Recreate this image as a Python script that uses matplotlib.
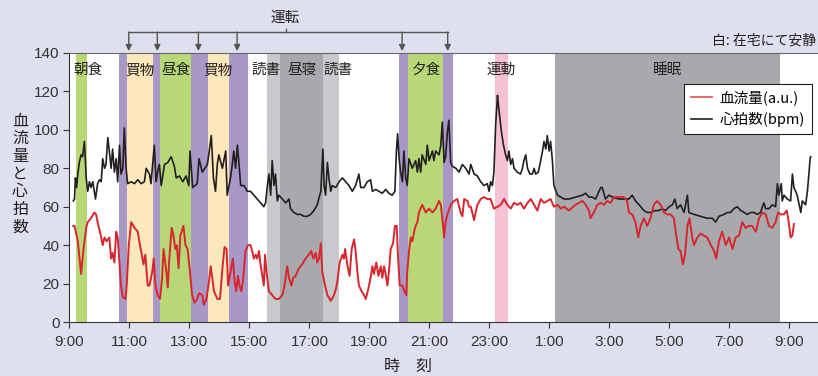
import matplotlib
matplotlib.use("Agg")
import matplotlib.pyplot as plt
from matplotlib.lines import Line2D

plt.rcParams['font.family'] = ['Noto Sans CJK JP', 'DejaVu Sans']

# ---- data ----
hr_time = [9.13, 9.17, 9.20, 9.24, 9.28, 9.33, 9.39, 9.44, 9.50, 9.56, 9.61, 9.67, 9.72, 9.78, 9.87, 9.94,
           10.00, 10.06, 10.11, 10.17, 10.22, 10.28, 10.33, 10.39, 10.44, 10.50, 10.56, 10.61, 10.67, 10.72,
           10.78, 10.83, 10.89, 10.94, 11.06, 11.17, 11.28, 11.39, 11.50, 11.56, 11.67, 11.72, 11.83, 11.89,
           11.94, 12.00, 12.06, 12.17, 12.28, 12.39, 12.50, 12.56, 12.67, 12.78, 12.89, 12.98, 13.02, 13.11,
           13.26, 13.32, 13.43, 13.60, 13.73, 13.80, 13.87, 13.93, 13.98, 14.10, 14.21, 14.26, 14.37, 14.43,
           14.48, 14.54, 14.60, 14.65, 14.71, 14.82, 14.93, 15.04, 15.15, 15.26, 15.37, 15.48, 15.54, 15.60,
           15.65, 15.71, 15.76, 15.82, 15.87, 15.93, 15.98, 16.10, 16.21, 16.32, 16.37, 16.48, 16.60, 16.71,
           16.82, 16.93, 17.04, 17.15, 17.26,
           17.38, 17.45, 17.49, 17.54, 17.60, 17.65, 17.71, 17.76, 17.88, 17.99, 18.10, 18.21, 18.32, 18.43,
           18.54, 18.65, 18.71, 18.82, 18.93, 19.04, 19.10, 19.21, 19.32, 19.43, 19.54, 19.65, 19.76, 19.85,
           19.90, 19.94, 19.99, 20.04, 20.10, 20.15, 20.21, 20.26, 20.32, 20.43, 20.54, 20.60, 20.65, 20.71,
           20.76, 20.88, 20.93, 20.99, 21.10, 21.15, 21.21, 21.32, 21.38, 21.43,
           21.49, 21.54, 21.60, 21.65, 21.71, 21.77, 21.88, 21.99, 22.10, 22.21, 22.32, 22.38, 22.49, 22.60,
           22.71, 22.82, 22.93, 22.99, 23.04, 23.10, 23.15, 23.21, 23.27, 23.30, 23.35, 23.40, 23.47, 23.54,
           23.60, 23.65, 23.71, 23.77, 23.82, 23.93, 24.04, 24.10, 24.15, 24.21, 24.27, 24.35, 24.43, 24.49,
           24.54, 24.63, 24.71, 24.77, 24.82, 24.88, 24.93, 24.99, 25.04, 25.10, 25.15, 25.27, 25.38, 25.49,
           25.65,
           25.87, 26.10, 26.21, 26.32, 26.43, 26.54, 26.71, 26.76, 26.87, 26.98, 27.10, 27.32, 27.54, 27.65,
           27.76, 27.87, 27.99, 28.15, 28.26, 28.37, 28.54, 28.65, 28.76, 28.87, 28.99, 29.10, 29.18, 29.26,
           29.37, 29.49, 29.60, 29.65, 29.82,
           30.04, 30.26, 30.43, 30.54, 30.65, 30.82, 30.93, 31.04, 31.15, 31.26, 31.38, 31.49, 31.60, 31.71,
           31.82, 31.93, 32.04, 32.10, 32.15, 32.21, 32.32, 32.43, 32.54, 32.60, 32.65, 32.73, 32.76, 32.82,
           32.93, 33.04, 33.10, 33.15, 33.26, 33.38, 33.43, 33.54, 33.60, 33.65, 33.69, 33.71]
hr_value = [63, 64, 75, 70, 77, 83, 87, 86, 94, 75, 68, 73, 70, 73, 64, 72,
            74, 73, 85, 80, 82, 96, 89, 80, 90, 78, 85, 73, 92, 77,
            80, 101, 80, 72, 73, 72, 74, 72, 73, 80, 77, 72, 92, 73,
            78, 82, 71, 82, 83, 86, 81, 75, 76, 73, 76, 71, 89, 70,
            72, 85, 78, 82, 97, 75, 68, 82, 87, 80, 89, 66, 75, 82,
            89, 80, 92, 83, 71, 71, 68, 68, 66, 64, 62, 60, 62, 71,
            77, 66, 84, 71, 77, 63, 66, 64, 62, 64, 59, 57, 56, 56,
            55, 55, 56, 58, 61,
            68, 90, 71, 66, 83, 75, 68, 71, 70, 73, 75, 73, 71, 68,
            71, 77, 70, 70, 73, 74, 68, 69, 68, 67, 69, 67, 66, 68,
            89, 98, 85, 78, 73, 89, 75, 71, 85, 80, 84, 78, 85, 78,
            87, 82, 92, 84, 89, 84, 89, 87, 92, 104,
            83, 86, 99, 105, 83, 81, 80, 78, 82, 80, 77, 82, 77, 76,
            73, 71, 72, 68, 73, 71, 78, 103, 118, 113, 106, 99, 92, 87,
            84, 89, 82, 85, 80, 78, 77, 80, 84, 87, 80, 77, 77, 80,
            77, 78, 84, 89, 94, 90, 97, 89, 94, 84, 71, 66, 65, 64,
            64,
            65, 66, 67, 65, 65, 64, 70, 70, 64, 66, 65, 64, 64, 64,
            66, 63, 61, 58, 57, 57, 58, 58, 59, 58, 60, 61, 64, 59,
            61, 57, 66, 57, 56,
            55, 54, 54, 52, 55, 56, 57, 57, 59, 60, 58, 57, 56, 57,
            57, 56, 57, 60, 62, 59, 59, 61, 60, 72, 66, 72, 63, 66,
            64, 63, 77, 70, 66, 57, 63, 61, 68, 77, 85, 86]

bf_time = [9.13, 9.17, 9.28, 9.39, 9.47, 9.56, 9.61, 9.72, 9.83, 9.89, 9.94, 10.06, 10.11, 10.17, 10.24,
           10.33, 10.39, 10.44, 10.50, 10.56, 10.61, 10.67, 10.72, 10.78, 10.87, 10.91, 10.98, 11.06, 11.17,
           11.28, 11.33, 11.39, 11.47, 11.53, 11.61, 11.67, 11.76, 11.81, 11.87, 11.94, 12.02, 12.09, 12.14,
           12.22, 12.28, 12.33, 12.41, 12.47, 12.53, 12.58, 12.64, 12.70, 12.80, 12.87, 12.94, 13.02, 13.09,
           13.17,
           13.26, 13.32, 13.43, 13.48, 13.57, 13.65, 13.71, 13.76, 13.82, 13.93, 14.02, 14.09, 14.17, 14.24,
           14.29, 14.37, 14.45, 14.51, 14.56, 14.62, 14.67, 14.73, 14.79, 14.87, 14.95, 15.04, 15.09, 15.15,
           15.21, 15.26, 15.32, 15.37, 15.43, 15.48, 15.52, 15.57, 15.65, 15.76, 15.87, 15.98, 16.10, 16.17,
           16.26, 16.32, 16.40, 16.46, 16.54, 16.65, 16.76, 16.87, 16.98, 17.06, 17.13, 17.21, 17.26,
           17.32, 17.38, 17.43, 17.52, 17.60, 17.71, 17.82, 17.88, 17.93, 18.01, 18.10, 18.15, 18.19, 18.26,
           18.34, 18.41, 18.49, 18.54, 18.60, 18.65, 18.74, 18.82, 18.88, 18.96, 19.04, 19.10, 19.15, 19.23,
           19.30, 19.38, 19.43, 19.49, 19.54, 19.60, 19.65, 19.71, 19.79, 19.85, 19.91, 19.95, 20.01, 20.10,
           20.19, 20.23, 20.26, 20.32, 20.38, 20.43, 20.49, 20.54, 20.60, 20.65, 20.76, 20.88, 20.99, 21.10,
           21.21, 21.32, 21.38, 21.43, 21.49,
           21.54, 21.60, 21.71, 21.82, 21.93, 22.04, 22.10, 22.16, 22.27, 22.32, 22.38, 22.49, 22.54, 22.60,
           22.71, 22.82, 22.93, 23.04, 23.15, 23.27, 23.38, 23.49, 23.60, 23.71, 23.82, 23.93, 24.04, 24.15,
           24.27, 24.38, 24.49, 24.60, 24.71, 24.82, 24.93, 25.04, 25.15, 25.27, 25.38, 25.49, 25.65,
           25.87, 26.10, 26.21, 26.32, 26.37, 26.48, 26.60, 26.71, 26.82, 26.93, 27.04, 27.15, 27.32, 27.48,
           27.59, 27.65, 27.76, 27.87, 27.96, 28.04, 28.15, 28.26, 28.37, 28.48, 28.59, 28.71, 28.82, 28.93,
           29.04, 29.15, 29.21, 29.30, 29.37, 29.45, 29.52, 29.60, 29.67, 29.76, 29.82,
           29.93, 30.04, 30.15, 30.26, 30.38, 30.49, 30.56, 30.65, 30.76, 30.88, 30.99, 31.10, 31.21, 31.32,
           31.43, 31.54, 31.65, 31.76, 31.88, 31.99, 32.10, 32.21, 32.32, 32.43, 32.54, 32.62, 32.71, 32.82,
           32.91, 32.96, 33.04, 33.10, 33.15]
bf_value = [50, 50, 42, 25, 38, 49, 52, 54, 57, 56, 52, 44, 40, 44, 42,
            44, 33, 36, 31, 47, 44, 30, 19, 13, 12, 19, 40, 52, 49,
            47, 42, 37, 30, 35, 19, 19, 26, 33, 19, 14, 12, 23, 38,
            28, 18, 33, 49, 45, 38, 40, 28, 45, 50, 40, 38, 26, 14,
            10,
            12, 15, 14, 9, 12, 21, 29, 23, 16, 12, 12, 26, 39, 38,
            19, 26, 33, 21, 16, 24, 19, 16, 22, 37, 40, 40, 37, 33,
            35, 33, 37, 30, 24, 19, 35, 26, 16, 14, 12, 12, 14, 19,
            29, 23, 19, 23, 24, 28, 30, 33, 35, 37, 33, 36, 31,
            33, 41, 26, 19, 14, 11, 14, 17, 21, 31, 35, 33, 38, 30,
            24, 38, 43, 37, 26, 19, 16, 14, 12, 17, 23, 29, 25, 31,
            24, 29, 23, 29, 25, 19, 26, 38, 41, 50, 50, 35, 19, 19,
            15, 14, 26, 37, 44, 42, 47, 50, 52, 57, 61, 57, 59, 57,
            59, 63, 61, 54, 44,
            52, 56, 61, 63, 64, 57, 55, 64, 63, 60, 60, 53, 57, 61,
            64, 65, 64, 64, 59, 60, 61, 64, 61, 59, 62, 61, 62, 59,
            62, 64, 61, 58, 64, 62, 63, 64, 60, 61, 59, 60, 58,
            61, 63, 61, 58, 54, 57, 61, 62, 61, 63, 62, 65, 65, 65,
            63, 57, 56, 52, 44, 50, 54, 50, 54, 61, 63, 61, 57, 56,
            56, 54, 47, 38, 37, 30, 35, 50, 54, 44, 40,
            44, 46, 45, 44, 40, 37, 33, 42, 47, 40, 44, 38, 44, 45,
            52, 49, 50, 50, 47, 54, 57, 56, 50, 49, 52, 57, 56, 56,
            58, 54, 44, 45, 51]

# activity bands: (start hour, end hour, kind)
band_start = [9.22, 10.65, 10.92, 11.80, 12.02, 13.05, 13.62, 14.33, 15.59, 16.02, 17.45, 19.98, 20.29, 21.45, 23.19, 25.19]
band_end   = [9.59, 10.92, 11.80, 12.02, 13.05, 13.62, 14.33, 14.95, 16.02, 17.45, 17.99, 20.29, 21.45, 21.79, 23.61, 32.69]
band_kind  = ['meal', 'drive', 'shop', 'drive', 'meal', 'drive', 'shop', 'drive', 'read', 'nap', 'read', 'drive', 'meal', 'drive', 'exercise', 'sleep']

label_text = ['朝食', '買物', '昼食', '買物', '読書', '昼寝', '読書', '夕食', '運動', '睡眠']
label_hour = [9.62, 11.35, 12.55, 13.95, 15.55, 16.75, 17.95, 20.9, 23.4, 28.95]

arrow_hour = [10.98, 11.93, 13.30, 14.59, 20.09, 21.61]

tick_hours = [9, 11, 13, 15, 17, 19, 21, 23, 25, 27, 29, 31, 33]
tick_labels = ['9:00', '11:00', '13:00', '15:00', '17:00', '19:00', '21:00', '23:00',
               '1:00', '3:00', '5:00', '7:00', '9:00']

# ---- style ----
colors = {'meal': '#b8d878', 'drive': '#a898c8', 'shop': '#fde8bb', 'read': '#c8c9cc',
          'nap': '#a8a9ac', 'exercise': '#f5c1d5', 'sleep': '#a8a9ac'}
BG = '#dfe0ef'
W, H = 818, 376
num_font = ['Liberation Sans Narrow', 'Liberation Sans', 'DejaVu Sans']

fig = plt.figure(figsize=(W / 100, H / 100), dpi=100, facecolor=BG)
x0, x1, ytop, ybot = 69.4, 818, 53, 322
ax = fig.add_axes([x0 / W, 1 - ybot / H, (x1 - x0) / W, (ybot - ytop) / H])
ax.set_facecolor('white')
ax.set_xlim(9, 9 + (x1 - x0) / 30)
ax.set_ylim(0, 140)

for s, e, k in zip(band_start, band_end, band_kind):
    ax.axvspan(s, e, color=colors[k], lw=0, zorder=0)

ax.plot(bf_time, bf_value, color='#d7262e', lw=1.4, zorder=3)
ax.plot(hr_time, hr_value, color='#231f20', lw=1.2, zorder=2)

for t, h in zip(label_text, label_hour):
    ax.text(h, 131, t, ha='center', va='center', fontsize=10.5, color='#231f20', zorder=4)

# spines / ticks
ax.spines['right'].set_visible(False)
ax.spines['top'].set_color('#666666')
ax.spines['left'].set_color('#333333')
ax.spines['bottom'].set_color('#333333')
ax.set_yticks(range(0, 141, 20))
ax.set_xticks(tick_hours)
ax.set_xticklabels(tick_labels)
ax.tick_params(axis='both', direction='out', length=4, color='#333333', labelcolor='#333333', labelsize=11)
for lab in ax.get_xticklabels() + ax.get_yticklabels():
    lab.set_family(num_font)
ax.tick_params(axis='x', pad=5)
ax.tick_params(axis='y', pad=3)

# legend
handles = [Line2D([], [], color='#e06060', lw=1.3), Line2D([], [], color='#231f20', lw=1.2)]
leg = ax.legend(handles, ['血流量(a.u.)', '心拍数(bpm)'], loc='upper left',
                bbox_to_anchor=(684 / W, 1 - 84 / H), bbox_transform=fig.transFigure,
                fontsize=10.5, frameon=True, fancybox=False, edgecolor='#231f20', framealpha=1,
                handlelength=1.5, handletextpad=0.5, borderpad=0.45, labelspacing=0.45, borderaxespad=0)
leg.get_frame().set_linewidth(0.8)
leg.set_zorder(5)

# driving bracket and arrows
gray = '#555555'
ax.plot([arrow_hour[0], arrow_hour[-1]], [150.7, 150.7], color=gray, lw=1, clip_on=False)
ax.plot([16.21, 16.21], [150.7, 152.5], color=gray, lw=1, clip_on=False)
for h in arrow_hour:
    ax.annotate('', xy=(h, 141.0), xytext=(h, 150.9), xycoords='data', textcoords='data',
                arrowprops=dict(arrowstyle='-|>', color=gray, lw=1, mutation_scale=9,
                                shrinkA=0, shrinkB=0), annotation_clip=False)
fig.text(285 / W, 1 - 18 / H, '運転', ha='center', va='center', fontsize=10.5, color='#231f20')
fig.text(816 / W, 1 - 41 / H, '白: 在宅にて安静', ha='right', va='center', fontsize=10, color='#231f20')

# axis titles
fig.text(20 / W, 1 - 174 / H, '\n'.join('血流量と心拍数'), ha='center', va='center',
         fontsize=11.5, linespacing=1.05, color='#231f20')
fig.text(408 / W, 1 - 366 / H, '時　刻', ha='center', va='center', fontsize=11.5, color='#231f20')

fig.savefig('out.png', dpi=100, facecolor=BG)
